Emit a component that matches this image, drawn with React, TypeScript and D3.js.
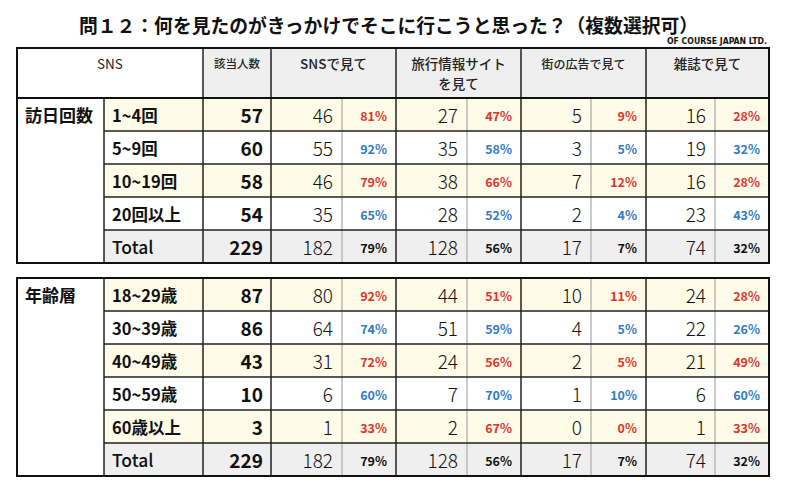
import React from "react";
import * as d3 from "d3";

const TITLE = "問１２：何を見たのがきっかけでそこに行こうと思った？（複数選択可）";
const CREDIT = "OF COURSE JAPAN LTD.";
const HEADERS = ["SNS", "該当人数", "SNSで見て", "旅行情報サイト\nを見て", "街の広告で見て", "雑誌で見て"];

const visitGroup = "訪日回数";
const visitLabels = ["1~4回", "5~9回", "10~19回", "20回以上", "Total"];
const visitN = [57, 60, 58, 54, 229];
const visitSns = [46, 55, 46, 35, 182];
const visitSnsPct = [81, 92, 79, 65, 79];
const visitTravel = [27, 35, 38, 28, 128];
const visitTravelPct = [47, 58, 66, 52, 56];
const visitAd = [5, 3, 7, 2, 17];
const visitAdPct = [9, 5, 12, 4, 7];
const visitMag = [16, 19, 16, 23, 74];
const visitMagPct = [28, 32, 28, 43, 32];

const ageGroup = "年齢層";
const ageLabels = ["18~29歳", "30~39歳", "40~49歳", "50~59歳", "60歳以上", "Total"];
const ageN = [87, 86, 43, 10, 3, 229];
const ageSns = [80, 64, 31, 6, 1, 182];
const ageSnsPct = [92, 74, 72, 60, 33, 79];
const ageTravel = [44, 51, 24, 7, 2, 128];
const ageTravelPct = [51, 59, 56, 70, 67, 56];
const ageAd = [10, 4, 2, 1, 0, 17];
const ageAdPct = [11, 5, 5, 10, 0, 7];
const ageMag = [24, 22, 21, 6, 1, 74];
const ageMagPct = [28, 26, 49, 60, 33, 32];

// layout
const COLS = [17, 104, 203, 271, 342, 396, 467, 521, 591, 646, 715, 769];
const ROW_H = 33;
const FONT = "'Noto Sans CJK JP', 'Noto Sans', sans-serif";
const RED = "#e2332b";
const BLUE = "#2f7bc6";
const YELLOW = "#fefbe8";
const GRAY = "#efefef";

type Block = {
  group: string;
  labels: string[];
  n: number[];
  pairs: [number[], number[]][];
  top: number;
};

const blocks: Block[] = [
  {
    group: visitGroup,
    labels: visitLabels,
    n: visitN,
    pairs: [
      [visitSns, visitSnsPct],
      [visitTravel, visitTravelPct],
      [visitAd, visitAdPct],
      [visitMag, visitMagPct],
    ],
    top: 98,
  },
  {
    group: ageGroup,
    labels: ageLabels,
    n: ageN,
    pairs: [
      [ageSns, ageSnsPct],
      [ageTravel, ageTravelPct],
      [ageAd, ageAdPct],
      [ageMag, ageMagPct],
    ],
    top: 278,
  },
];

function BlockView({ b }: { b: Block }) {
  const idx = b.labels.map((_, i) => i);
  const y = d3
    .scaleBand<number>()
    .domain(idx)
    .range([b.top, b.top + ROW_H * idx.length])
    .padding(0);
  const bottom = b.top + ROW_H * idx.length;
  const L = COLS[0];
  const R = COLS[COLS.length - 1];
  const fmt = d3.format("d");
  return (
    <g>
      {idx.map((i) => {
        const isTotal = b.labels[i] === "Total";
        const fill = isTotal ? GRAY : i % 2 === 0 ? YELLOW : "#ffffff";
        return (
          <rect key={"bg" + i} x={COLS[1]} y={y(i)!} width={R - COLS[1]} height={ROW_H} fill={fill} />
        );
      })}
      {[4, 6, 8, 10].map((c) => (
        <line key={"pd" + c} x1={COLS[c]} x2={COLS[c]} y1={b.top} y2={bottom} stroke="#b9b9b9" strokeWidth={1.5} />
      ))}
      {idx.slice(1).map((i) => (
        <line key={"rl" + i} x1={COLS[1]} x2={R} y1={y(i)!} y2={y(i)!} stroke="#222" strokeWidth={1.5} />
      ))}
      {[1, 2, 3, 5, 7, 9].map((c) => (
        <line key={"mv" + c} x1={COLS[c]} x2={COLS[c]} y1={b.top} y2={bottom} stroke="#222" strokeWidth={1.5} />
      ))}
      <text x={25} y={y(0)! + ROW_H / 2} dominantBaseline="central" fontFamily={FONT} fontWeight={700} fontSize={17} fill="#111">
        {b.group}
      </text>
      {idx.map((i) => {
        const isTotal = b.labels[i] === "Total";
        const cy = y(i)! + ROW_H / 2;
        const pctColor = isTotal ? "#111" : i % 2 === 0 ? RED : BLUE;
        return (
          <g key={"row" + i} fontFamily={FONT}>
            <text x={COLS[1] + 8} y={cy} dominantBaseline="central" fontWeight={isTotal ? 500 : 700} fontSize={isTotal ? 17.5 : 16.5} fill="#111">
              {b.labels[i]}
            </text>
            <text x={COLS[3] - 8} y={cy} dominantBaseline="central" textAnchor="end" fontWeight={700} fontSize={19} fill="#111">
              {fmt(b.n[i])}
            </text>
            {b.pairs.map(([cnt, pct], k) => (
              <g key={k}>
                <text x={COLS[4 + 2 * k] - 9} y={cy} dominantBaseline="central" textAnchor="end" fontWeight={300} fontSize={19} fill="#111">
                  {fmt(cnt[i])}
                </text>
                <text x={COLS[5 + 2 * k] - 9} y={cy + 0.5} dominantBaseline="central" textAnchor="end" fontWeight={700} fontSize={12.5} fill={pctColor}>
                  {fmt(pct[i]) + "%"}
                </text>
              </g>
            ))}
          </g>
        );
      })}
      <rect x={L} y={b.top} width={R - L} height={bottom - b.top} fill="none" stroke="#111" strokeWidth={2} />
    </g>
  );
}

export default function App() {
  const L = COLS[0];
  const R = COLS[COLS.length - 1];
  const hTop = 48;
  const hBot = 98;
  const headerCenters = [
    (COLS[0] + COLS[2]) / 2,
    (COLS[2] + COLS[3]) / 2,
    (COLS[3] + COLS[5]) / 2,
    (COLS[5] + COLS[7]) / 2,
    (COLS[7] + COLS[9]) / 2,
    (COLS[9] + COLS[11]) / 2,
  ];
  const headerSizes = [13.5, 11.5, 13.5, 13.5, 12, 13.5];
  const headerWeights = [400, 500, 500, 500, 500, 500];
  return (
    <svg width={800} height={499} style={{ position: "absolute", left: 0, top: 0 }}>
      <rect x={0} y={0} width={800} height={499} fill="#ffffff" />
      <text x={79} y={33} fontFamily={FONT} fontWeight={700} fontSize={18.8} fill="#111">
        {TITLE}
      </text>
      <text x={767} y={44} textAnchor="end" fontFamily="'DejaVu Sans Condensed', 'Liberation Sans Narrow', sans-serif" fontWeight={700} fontSize={9} textLength={100} lengthAdjust="spacingAndGlyphs" fill="#111">
        {CREDIT}
      </text>
      <rect x={COLS[2]} y={hTop} width={R - COLS[2]} height={hBot - hTop} fill={GRAY} />
      {[2, 3, 5, 7, 9].map((c) => (
        <line key={"hv" + c} x1={COLS[c]} x2={COLS[c]} y1={hTop} y2={hBot} stroke="#222" strokeWidth={1.5} />
      ))}
      {HEADERS.map((h, i) => (
        <text key={"h" + i} x={headerCenters[i]} y={63} textAnchor="middle" dominantBaseline="central" fontFamily={FONT} fontWeight={headerWeights[i]} fontSize={headerSizes[i]} fill="#222">
          {h.split("\n").map((line, j) => (
            <tspan key={j} x={headerCenters[i]} dy={j === 0 ? 0 : 20}>
              {line}
            </tspan>
          ))}
        </text>
      ))}
      <rect x={L} y={hTop} width={R - L} height={hBot - hTop} fill="none" stroke="#111" strokeWidth={2} />
      {blocks.map((b, i) => (
        <BlockView key={i} b={b} />
      ))}
    </svg>
  );
}
